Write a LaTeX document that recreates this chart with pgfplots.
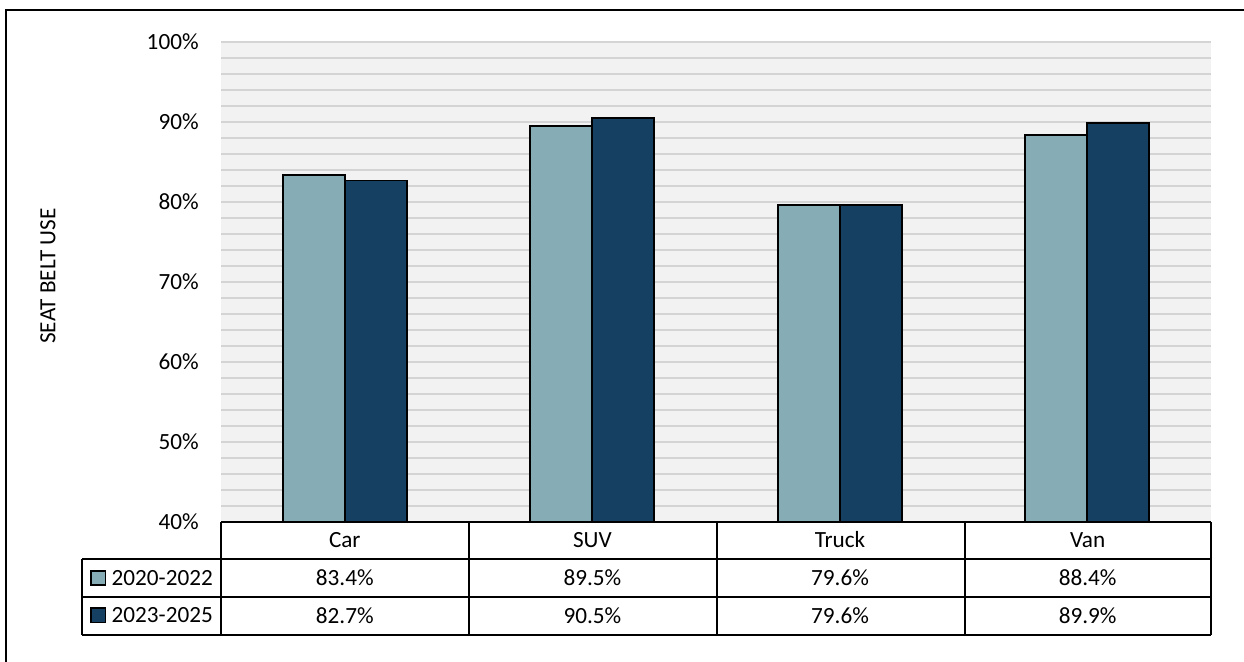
\documentclass[border=0pt]{standalone}
\usepackage{pgfplots}
\pgfplotsset{compat=1.18}
\usepackage{fontspec}
\setmainfont{Carlito}
\definecolor{lightc}{HTML}{86ADB5}
\definecolor{darkc}{HTML}{164062}
\definecolor{gridc}{HTML}{D4D4D4}
\definecolor{bgc}{HTML}{F2F2F2}
\newcommand{\fs}{\fontsize{11.6bp}{14bp}\selectfont}
\begin{document}
\begin{tikzpicture}[font=\fs,
  tbl/.style={inner sep=0pt, text height=7bp, text depth=0pt, anchor=center}]
\path[use as bounding box] (0,0) rectangle (622bp,331bp);
\draw[line width=1bp] (3.15bp,0) -- (3.15bp,326bp) -- (622bp,326bp);
\begin{axis}[
  at={(110.5bp,70bp)}, anchor=south west,
  width=495bp, height=240bp, scale only axis,
  xmin=-0.5, xmax=3.5, ymin=40, ymax=100,
  ybar=0pt, bar width=31bp,
  xtick=\empty,
  ytick={40,50,...,100},
  yticklabels={40\%,50\%,60\%,70\%,80\%,90\%,100\%},
  minor y tick num=4,
  ymajorgrids, yminorgrids,
  major grid style={gridc, line width=0.8bp},
  minor grid style={gridc, line width=0.8bp},
  axis line style={draw=none},
  major tick length=0pt, minor tick length=0pt,
  tick style={draw=none},
  yticklabel style={anchor=east, inner sep=0pt, xshift=-11bp, font=\fs},
  axis background/.style={fill=bgc},
  clip=false,
  legend style={draw=none, fill=none, inner sep=0pt, row sep=10.6bp,
    at={(-0.1323,-0.0992)}, anchor=north west,
    nodes={inner xsep=2.6bp, inner ysep=0pt, text height=7bp, text depth=0pt, font=\fs}},
  legend cell align=left,
]
\addplot[fill=lightc, draw=black, line width=0.8bp,
  legend image code/.code={\draw[fill=lightc, draw=black, line width=0.8bp] (0bp,-3.6bp) rectangle (7.2bp,3.6bp);}]
  coordinates {(0,83.4) (1,89.5) (2,79.6) (3,88.4)};
\addlegendentry{2020-2022}
\addplot[fill=darkc, draw=black, line width=0.8bp,
  legend image code/.code={\draw[fill=darkc, draw=black, line width=0.8bp] (0bp,-3.6bp) rectangle (7.2bp,3.6bp);}]
  coordinates {(0,82.7) (1,90.5) (2,79.6) (3,89.9)};
\addlegendentry{2023-2025}
\end{axis}
% data table
\begin{scope}[line width=0.9bp]
\draw (110.5bp,70bp) -- (605.5bp,70bp);
\draw (41bp,51.5bp) -- (605.5bp,51.5bp);
\draw (41bp,32.5bp) -- (605.5bp,32.5bp);
\draw (41bp,13.5bp) -- (605.5bp,13.5bp);
\foreach \x in {110.5,234.5,358.5,482.5,605.5} {\draw (\x bp,13.5bp) -- (\x bp,70bp);}
\draw (41bp,13.5bp) -- (41bp,51.5bp);
\end{scope}
\node[tbl] at (172.4bp,60.75bp) {Car};
\node[tbl] at (296.2bp,60.75bp) {SUV};
\node[tbl] at (420bp,60.75bp) {Truck};
\node[tbl] at (543.8bp,60.75bp) {Van};
\node[tbl] at (172.4bp,42bp) {83.4\%};
\node[tbl] at (296.2bp,42bp) {89.5\%};
\node[tbl] at (420bp,42bp) {79.6\%};
\node[tbl] at (543.8bp,42bp) {88.4\%};
\node[tbl] at (172.4bp,23bp) {82.7\%};
\node[tbl] at (296.2bp,23bp) {90.5\%};
\node[tbl] at (420bp,23bp) {79.6\%};
\node[tbl] at (543.8bp,23bp) {89.9\%};
\node[rotate=90, inner sep=0pt] at (24bp,193bp) {SEAT BELT USE};
\end{tikzpicture}
\end{document}
